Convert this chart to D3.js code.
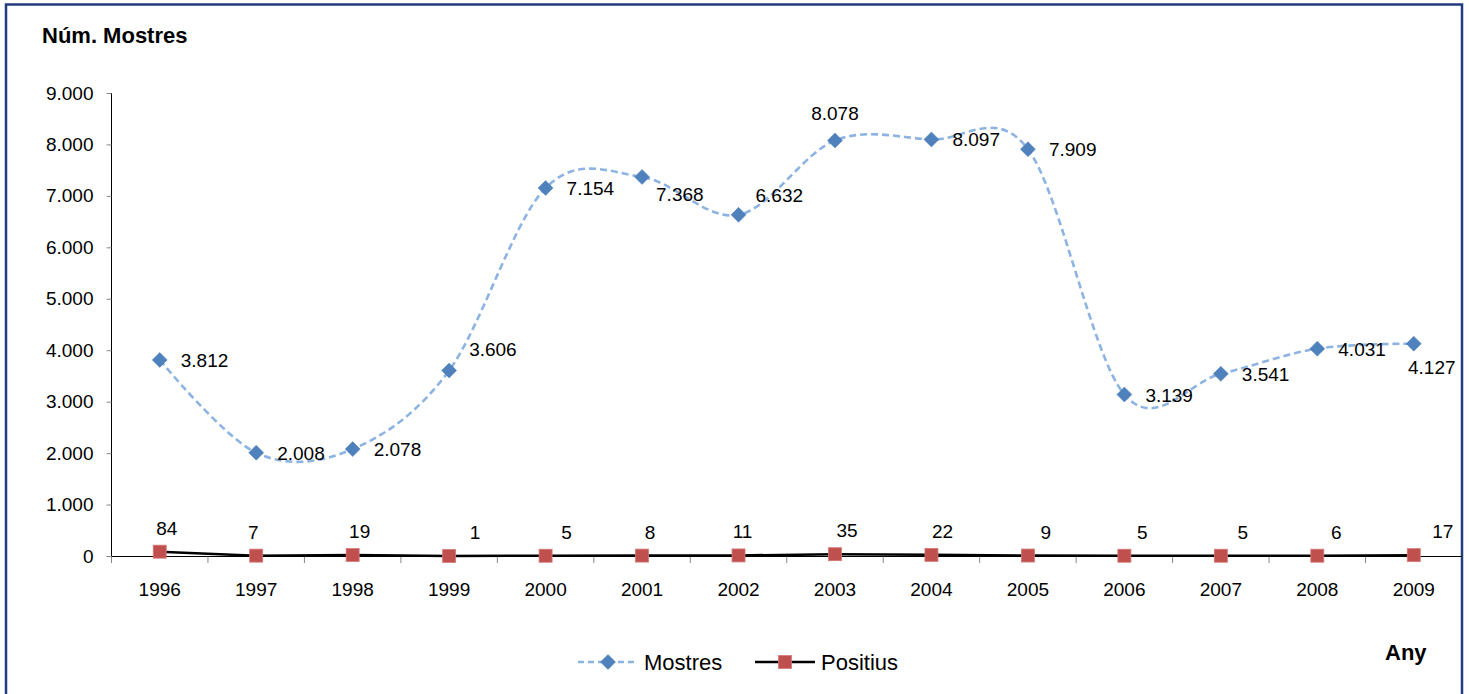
<!DOCTYPE html>
<html><head><meta charset="utf-8">
<script src="https://cdn.jsdelivr.net/npm/d3@7/dist/d3.min.js"></script>
<style>body{margin:0;background:#fff}svg{display:block;font-family:Arial,"Liberation Sans",sans-serif}</style>
</head><body><svg id="c" width="1469" height="694"></svg>
<script>
const years = ["1996","1997","1998","1999","2000","2001","2002","2003","2004","2005","2006","2007","2008","2009"];
const mostres = [3812,2008,2078,3606,7154,7368,6632,8078,8097,7909,3139,3541,4031,4127];
const positius = [84,7,19,1,5,8,11,35,22,9,5,5,6,17];
const yTicks = [0,1000,2000,3000,4000,5000,6000,7000,8000,9000];
const seriesNames = ["Mostres","Positius"];

const svg = d3.select("#c");
const fmt = v => d3.format(",")(v).replace(/,/g,".");
const FS = 19;

// frame
svg.append("rect").attr("x",6).attr("y",4.5).attr("width",1456).attr("height",700)
  .attr("fill","none").attr("stroke","#1F3C7C").attr("stroke-width",2.5);

const x = d3.scaleBand().domain(years).range([111.5,1462]).padding(0);
const y = d3.scaleLinear().domain([0,9000]).range([556,93]);
const cx = d => x(d)+x.bandwidth()/2;

// y axis
const ya = svg.append("g").attr("transform","translate(111.5,0)")
  .call(d3.axisLeft(y).tickValues(yTicks).tickFormat(fmt).tickSize(5).tickPadding(13));
ya.select(".domain").attr("stroke","#000").attr("d","M0,93V556");
ya.selectAll(".tick line").attr("stroke","#888");
ya.selectAll(".tick text").attr("font-size",FS).attr("fill","#000").attr("font-family","Arial,'Liberation Sans',sans-serif");

// x axis
const xa = svg.append("g").attr("transform","translate(0,556.5)")
  .call(d3.axisBottom(x).tickSize(0).tickPadding(26));
xa.select(".domain").attr("stroke","#000").attr("d","M111.5,0H1462");
xa.selectAll(".tick text").attr("font-size",FS).attr("fill","#000").attr("font-family","Arial,'Liberation Sans',sans-serif");
years.forEach((yr,i)=>{
  const bx = x(yr);
  svg.append("line").attr("x1",bx).attr("x2",bx).attr("y1",556.5).attr("y2",563).attr("stroke","#888");
});

// Mostres smooth dashed line
const lineM = d3.line().x((d,i)=>cx(years[i])).y(d=>y(d)).curve(d3.curveCardinal.tension(0));
svg.append("path").attr("d",lineM(mostres)).attr("fill","none")
  .attr("stroke","#8DB3E2").attr("stroke-width",2.6).attr("stroke-dasharray","7,4");

// Positius line
const lineP = d3.line().x((d,i)=>cx(years[i])).y(d=>y(d));
svg.append("path").attr("d",lineP(positius)).attr("fill","none")
  .attr("stroke","#000").attr("stroke-width",2.5);

// markers
const diamond = (g,px,py) => g.append("path")
  .attr("d",`M${px},${py-7.5}L${px+7.5},${py}L${px},${py+7.5}L${px-7.5},${py}Z`)
  .attr("fill","#4F81BD").attr("stroke","#4F81BD").attr("stroke-width",0.5);
const square = (g,px,py) => g.append("rect").attr("x",px-6.5).attr("y",py-6.5)
  .attr("width",13).attr("height",13).attr("fill","#C0504D").attr("stroke","#D47A78").attr("stroke-width",0.8);

mostres.forEach((v,i)=>diamond(svg,cx(years[i]),y(v)));
positius.forEach((v,i)=>square(svg,cx(years[i]),y(v)));

// Mostres labels (placement per point as in the original)
const mPlace = {"1999":[20,-14,"start"],"2001":[14,24,"start"],"2002":[17,-13,"start"],"2003":[0,-20,"middle"],"2009":[18,30,"middle"]};
mostres.forEach((v,i)=>{
  const p = mPlace[years[i]] || [21,7,"start"];
  svg.append("text").attr("x",cx(years[i])+p[0]).attr("y",y(v)+p[1])
    .attr("text-anchor",p[2]).attr("font-size",FS).attr("fill","#000").text(fmt(v));
});
// Positius labels
const pDx = {"1996":7,"1997":-3,"1998":7,"1999":26,"2000":21,"2001":8,"2002":4,"2003":12,"2004":11,"2005":18,"2006":18,"2007":22,"2008":19,"2009":29};
positius.forEach((v,i)=>{
  svg.append("text").attr("x",cx(years[i])+pDx[years[i]]).attr("y",y(v)-17)
    .attr("text-anchor","middle").attr("font-size",FS).attr("fill","#000").text(fmt(v));
});

// titles
svg.append("text").attr("x",42).attr("y",43).attr("font-size",22).attr("font-weight","bold").text("Núm. Mostres");
svg.append("text").attr("x",1385).attr("y",660).attr("font-size",22).attr("font-weight","bold").text("Any");

// legend
const lg = svg.append("g");
lg.append("line").attr("x1",578).attr("x2",637).attr("y1",662).attr("y2",662)
  .attr("stroke","#8DB3E2").attr("stroke-width",2.6).attr("stroke-dasharray","6,4");
diamond(lg,608,662);
lg.append("text").attr("x",644).attr("y",670).attr("font-size",22).text(seriesNames[0]);
lg.append("line").attr("x1",755).attr("x2",815).attr("y1",662).attr("y2",662)
  .attr("stroke","#000").attr("stroke-width",2.5);
square(lg,785,662);
lg.append("text").attr("x",821).attr("y",670).attr("font-size",22).text(seriesNames[1]);
</script></body></html>
